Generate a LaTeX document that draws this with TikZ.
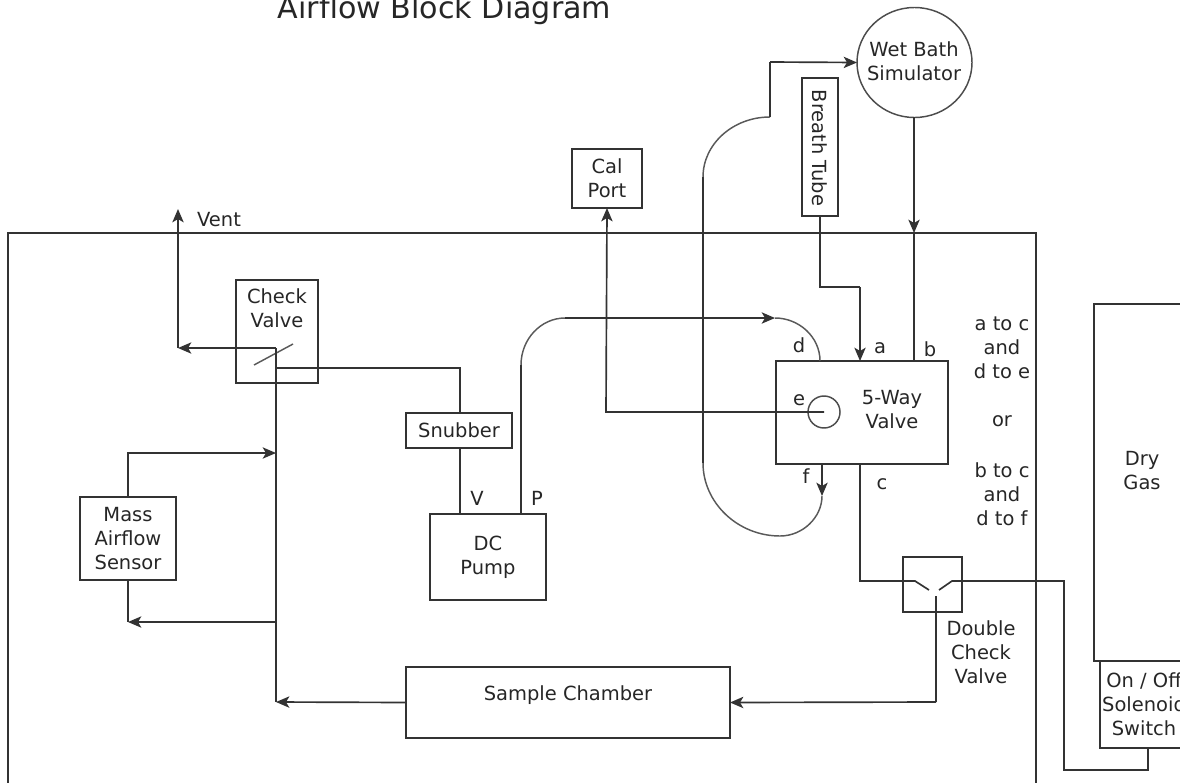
\documentclass[tikz,border=0pt]{standalone}
\usepackage{fontspec}
\setmainfont{DejaVu Sans}
\usetikzlibrary{arrows.meta,shapes.geometric}
\tikzset{
  wire/.style={line width=1.25pt,draw=black!80},
  arrowwire/.style={wire,-{Stealth[length=10pt,width=8.5pt,inset=2.5pt]}},
  thin curve/.style={line width=1.1pt,draw=black!65},
  boxshape/.style={draw=black!80,line width=1.25pt,inner sep=0pt,outer sep=0pt,align=center,text=black!85,font=\fontsize{14.6}{18}\selectfont},
  txt/.style={inner sep=0pt,outer sep=0pt,align=center,font=\fontsize{14.6}{18}\selectfont,text=black!85},
}
\newcommand\pxbox[6]{\node[boxshape,minimum width={(#4-#2)*0.75pt},minimum height={(#5-#3)*0.75pt}] (#1) at ({(#2+#4)/2},{(#3+#5)/2}) {#6};}
\begin{document}
\begin{tikzpicture}[x=0.75pt,y=-0.75pt]
\useasboundingbox (0,0) rectangle (1180,782);
% boxes
\pxbox{main}{8}{233}{1036}{810}{}
\pxbox{check}{236}{280}{318}{383}{}
\pxbox{calport}{572}{149}{642}{208}{Cal\\Port}
\pxbox{breath}{802}{78}{838}{216}{}
\pxbox{snub}{406}{413}{512}{448}{Snubber}
\pxbox{pump}{430}{514}{546}{600}{DC\\Pump}
\pxbox{mass}{80}{497}{176}{580}{Mass\\Airflow\\Sensor}
\pxbox{valve}{776}{361}{948}{464}{}
\pxbox{dcv}{903}{557}{962}{612}{}
\pxbox{dry}{1094}{304}{1260}{661}{}
\pxbox{solenoid}{1100}{661}{1260}{748}{}
\pxbox{sample}{406}{667}{730}{738}{}
\node[boxshape,ellipse,minimum width={115*0.75pt},minimum height={110*0.75pt},line width=1.1pt,draw=black!70] (wet) at (914.5,62.5) {};
\node[boxshape,circle,minimum size={32*0.75pt},line width=1.1pt,draw=black!70] (port) at (824,412) {};
% texts
\node[txt,anchor=base,font=\fontsize{22.6}{24}\selectfont] (title) at (444.5,18) {Airflow Block Diagram};
\node[txt] (twet) at (914,61) {Wet Bath\\Simulator};
\node[txt] (tvent) at (219,220) {Vent};
\node[txt] (tcheck) at (277,308) {Check\\Valve};
\node[txt,rotate=-90] (tbreath) at (820,148) {Breath Tube};
\node[txt] (tvalve) at (892,410) {5-Way\\Valve};
\node[txt] (tsample) at (568,695) {Sample Chamber};
\node[txt] (tdcv) at (981,652) {Double\\Check\\Valve};
\node[txt] (tdry) at (1142,471) {Dry\\Gas};
\node[txt] (tsol) at (1144,704) {On / Off\\Solenoid\\Switch};
\node[txt] (tac) at (1002,348) {a to c\\and\\d to e};
\node[txt] (tor) at (1002,421) {or};
\node[txt] (tbc) at (1002,494) {b to c\\and\\d to f};
\node[txt] (la) at (880,348) {a};
\node[txt] (lb) at (930,349) {b};
\node[txt] (ld) at (799,345) {d};
\node[txt] (le) at (799,400) {e};
\node[txt] (lf) at (806,476) {f};
\node[txt] (lc) at (882,484) {c};
\node[txt] (lv) at (477,498) {V};
\node[txt] (lp) at (537,498) {P};
% named points
\coordinate (ventend) at (178,209);
\coordinate (ventcorner) at (178,348);
\coordinate (chk) at (276,348);
\coordinate (chk2) at (276,368);
\coordinate (bus) at (276,702);
\coordinate (snubx) at (460,368);
\coordinate (massT) at (128,497);
\coordinate (massB) at (128,580);
\coordinate (dcvb) at (936,596);
\coordinate (dcvc) at (936,702);
\coordinate (cin) at (860,464);
\coordinate (cc) at (860,581);
\coordinate (dl1) at (915,581);
\coordinate (dl2) at (929,590);
\coordinate (dr1) at (939,590);
\coordinate (dr2) at (952,581);
\coordinate (f0) at (822,464);
\coordinate (f1) at (822,496);
\coordinate (loopb) at (780,536);
\coordinate (loopl) at (703,463);
\coordinate (loopt) at (703,177);
\coordinate (loopj) at (770,117);
\coordinate (wetin) at (770,62);
\coordinate (p0) at (521,514);
\coordinate (p1) at (521,365);
\coordinate (p2) at (565,318);
\coordinate (p3) at (775,318);
\coordinate (d0) at (820,361);
\coordinate (cal) at (606,412);
\coordinate (a0) at (860,361);
\coordinate (a1) at (820,287);
\coordinate (b0) at (914,361);
\coordinate (b1) at (914,233);
\coordinate (wetb) at (914,117);
% check valve
\draw[thin curve] (254,365) -- (293,344);
\draw[wire] (bus) -- (chk);
\draw[arrowwire] (chk) -- (ventcorner);
\draw[arrowwire] (ventcorner) -- (ventend);
\draw[wire] (chk2) -- (snubx) -- (snubx |- snub.north);
\draw[wire] (snubx |- snub.south) -- (snubx |- pump.north);
% mass sensor
\draw[arrowwire] (massT) -- (128,453) -- (276,453);
\draw[arrowwire] (chk |- 0,622) -- (massB |- 0,622);
\draw[wire] (massB) -- (massB |- 0,622);
% sample chamber
\draw[arrowwire] (sample.west) -- (bus);
\draw[wire] (dcvb) -- (dcvc);
\draw[arrowwire] (dcvc) -- (sample.east);
% double check valve
\draw[wire] (cin) -- (cc) -- (dl1) -- (dl2);
\draw[wire] (dr1) -- (dr2) -- (1064,581) -- (1064,770) -- (1148,770) -- (1148,748);
% valve connections
\draw[arrowwire] (f0) -- (f1);
\draw[thin curve] (f1) .. controls (822,517) and (803,536) .. (loopb)
  .. controls (738,536) and (703,503) .. (loopl);
\draw[wire] (loopl) -- (loopt);
\draw[thin curve] (loopt) .. controls (703,144) and (733,117) .. (loopj);
\draw[wire] (loopj) -- (wetin);
\draw[arrowwire] (wetin) -- (wet.west);
\draw[wire] (p0) -- (p1);
\draw[thin curve] (p1) .. controls (521,339) and (541,318) .. (p2);
\draw[arrowwire] (p2) -- (p3);
\draw[thin curve] (p3) .. controls (799,318) and (820,337) .. (d0);
\draw[arrowwire] (port.center) -- (cal) -- (calport.south);
\draw[wire] (breath.south) -- (a1) -- (860,287);
\draw[arrowwire] (860,287) -- (a0);
\draw[arrowwire] (wetb) -- (b1);
\draw[wire] (b1) -- (b0);
\end{tikzpicture}
\end{document}
